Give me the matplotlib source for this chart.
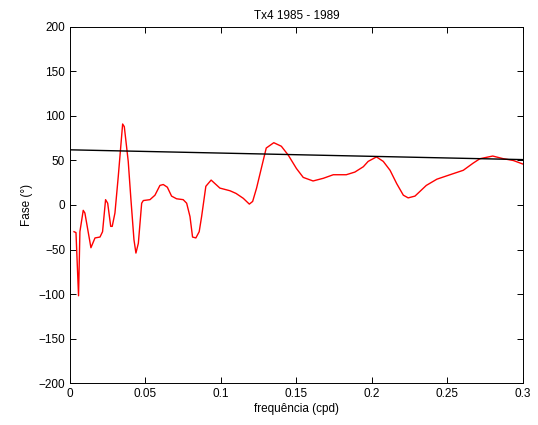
import matplotlib
matplotlib.use("Agg")
import matplotlib.pyplot as plt
import numpy as np

freq = [0.0027, 0.004, 0.0057, 0.0066, 0.0088, 0.0099, 0.0139, 0.0166, 0.0199, 0.0216,
        0.0236, 0.025, 0.027, 0.028, 0.0298, 0.032, 0.0349, 0.036, 0.0386, 0.0404,
        0.0424, 0.0437, 0.0453, 0.0475, 0.0486, 0.053, 0.0563, 0.0596, 0.0618, 0.0645,
        0.0673, 0.0706, 0.075, 0.0773, 0.0795, 0.0812, 0.0834, 0.0856, 0.0872, 0.09,
        0.0935, 0.0993, 0.106, 0.110, 0.1148, 0.1188, 0.121, 0.1236, 0.127, 0.130,
        0.135, 0.140, 0.1446, 0.150, 0.1545, 0.161, 0.1678, 0.1744, 0.183, 0.1887,
        0.1943, 0.1975, 0.203, 0.2075, 0.212, 0.2164, 0.2208, 0.224, 0.2285, 0.236,
        0.243, 0.2517, 0.2605, 0.267, 0.2715, 0.280, 0.287, 0.2936, 0.300]
fase = [-30, -31, -102, -30, -6, -9, -48, -37, -36, -30,
        6, 2, -24, -24, -9, 32, 91, 88, 49, 6,
        -39, -54, -43, 2, 5, 6, 11, 22, 23, 20,
        10, 7, 6, 2, -13, -36, -37, -30, -13, 21,
        28, 19, 16, 13, 7.5, 1, 4, 19, 43, 64,
        70, 66, 56, 41, 31, 27, 30, 34, 34, 37,
        43, 49, 54, 49, 39, 24, 11, 8, 10, 22,
        29, 34, 39, 47, 52, 55, 52, 50, 46]

trend_x = [0.0, 0.3]
trend_y = [62, 51]

plt.rcParams['font.family'] = ['Liberation Sans', 'DejaVu Sans']
fig = plt.figure(figsize=(5.38, 4.25), dpi=100)
ax = fig.add_axes([0.130, 0.0988, 0.842, 0.8377])
ax.plot(freq, fase, color='red', linewidth=1.0)
ax.plot(trend_x, trend_y, color='black', linewidth=1.0)
ax.set_xlim(0, 0.3)
ax.set_ylim(-200, 200)
ax.set_xticks([0, 0.05, 0.1, 0.15, 0.2, 0.25, 0.3])
ax.set_xticklabels(['0', '0.05', '0.1', '0.15', '0.2', '0.25', '0.3'])
ax.set_yticks(np.arange(-200, 201, 50))
ax.tick_params(direction='in', top=True, right=True, labelsize=8.5, length=4, width=0.7)
for s in ax.spines.values():
    s.set_linewidth(0.7)
ax.set_title('Tx4 1985 - 1989', fontsize=8.5, pad=6)
ax.set_xlabel('frequência (cpd)', fontsize=8.5, labelpad=2)
ax.set_ylabel('Fase (°)', fontsize=8.5, labelpad=4)
fig.savefig('out.png', dpi=100)
